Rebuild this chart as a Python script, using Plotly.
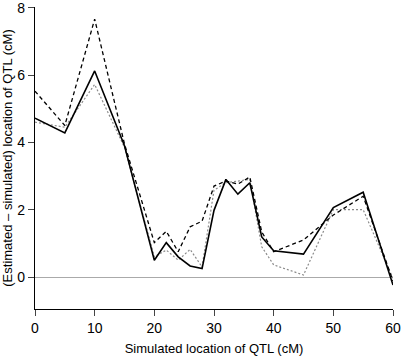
import plotly.graph_objects as go

sim_loc = [0, 5, 10, 15, 20, 22, 24, 26, 28, 30, 32, 34, 36, 38, 40, 45, 50, 55, 60]
solid_vals = [4.72, 4.28, 6.12, 3.90, 0.50, 1.02, 0.60, 0.33, 0.25, 1.98, 2.90, 2.46, 2.80, 1.19, 0.78, 0.68, 2.06, 2.52, -0.24]
dashed_vals = [5.52, 4.50, 7.66, 3.95, 1.02, 1.36, 0.75, 1.49, 1.66, 2.70, 2.85, 2.76, 2.97, 1.34, 0.75, 1.10, 1.84, 2.40, -0.12]
dotted_vals = [4.60, 4.45, 5.72, 3.85, 0.60, 0.80, 0.50, 0.82, 0.30, 2.58, 2.80, 2.85, 2.90, 0.90, 0.36, 0.06, 2.00, 2.00, -0.05]

x_ticks = [0, 10, 20, 30, 40, 50, 60]
y_ticks = [0, 2, 4, 6, 8]

font_family = "Liberation Sans, Arial, sans-serif"

fig = go.Figure()
fig.add_trace(go.Scatter(x=sim_loc, y=dotted_vals, mode="lines",
                         line=dict(color="#8a8a8a", width=1.2, dash="2px,2px")))
fig.add_trace(go.Scatter(x=sim_loc, y=dashed_vals, mode="lines",
                         line=dict(color="black", width=1.3, dash="4px,3px")))
fig.add_trace(go.Scatter(x=sim_loc, y=solid_vals, mode="lines",
                         line=dict(color="black", width=1.6)))

fig.update_layout(
    width=405, height=360,
    margin=dict(l=35, r=12, t=7, b=51),
    paper_bgcolor="white", plot_bgcolor="white",
    showlegend=False,
    font=dict(family=font_family, color="black", size=13),
)
fig.update_xaxes(
    range=[0, 60], tickvals=x_ticks, ticks="outside", ticklen=6, tickwidth=1.2,
    showline=True, linecolor="black", linewidth=1.2, showgrid=False, zeroline=False,
    tickfont=dict(size=14), automargin=False, ticklabeloverflow="allow",
    title=dict(text="Simulated location of QTL (cM)", font=dict(size=13), standoff=8),
)
fig.update_yaxes(
    range=[-0.95, 8.02], tickvals=y_ticks, ticks="outside", ticklen=6, tickwidth=1.2,
    showline=True, linecolor="black", linewidth=1.2, showgrid=False,
    zeroline=True, zerolinecolor="#aaaaaa", zerolinewidth=1,
    tickfont=dict(size=14), automargin=False, ticklabeloverflow="allow",
    title=dict(text="(Estimated – simulated) location of QTL (cM)", font=dict(size=13), standoff=4),
)

fig.write_html("out.html", config={"displayModeBar": False},
               post_script="document.body.style.margin='0';")
